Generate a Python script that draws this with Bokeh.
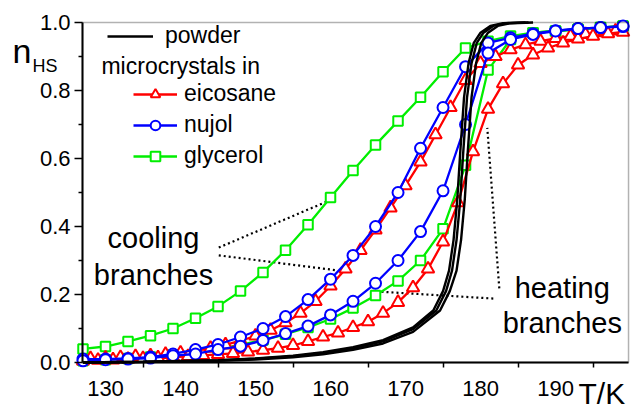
from bokeh.plotting import figure
from bokeh.models import (Range1d, Legend, LegendItem, Label, FixedTicker, PrintfTickFormatter,
                          BoxAnnotation)
from bokeh.embed import file_html
from bokeh.resources import INLINE

FONT = "Liberation Sans"

# ---------------- data ----------------
# eicosane (red, triangles)
T_red_cool = [128, 130, 132, 134, 136, 138, 140, 142, 144, 146, 148, 150, 152, 154, 156, 158, 160, 162,
              164, 166, 168, 170, 172, 174, 176, 178, 180, 182, 184, 186, 188, 190, 192, 194, 196, 198]
n_red_cool = [0.012, 0.013, 0.015, 0.018, 0.020, 0.024, 0.028, 0.034, 0.042, 0.052, 0.064, 0.078, 0.095,
              0.117, 0.145, 0.180, 0.225, 0.275, 0.330, 0.390, 0.455, 0.520, 0.590, 0.670, 0.750, 0.830,
              0.880, 0.900, 0.920, 0.935, 0.945, 0.953, 0.960, 0.965, 0.970, 0.975]
T_red_heat = [127, 129, 131, 133, 135, 137, 139, 141, 143, 145, 147, 149, 151, 153, 155, 157, 159, 161,
              163, 165, 167, 169, 171, 173, 175, 177, 179, 181, 183, 185, 187, 189, 191, 193, 195, 197, 199]
n_red_heat = [0.005, 0.007, 0.008, 0.010, 0.012, 0.014, 0.016, 0.018, 0.021, 0.024, 0.027, 0.031, 0.036,
              0.042, 0.050, 0.062, 0.075, 0.087, 0.103, 0.120, 0.145, 0.177, 0.220, 0.275, 0.355, 0.470,
              0.620, 0.745, 0.820, 0.875, 0.905, 0.925, 0.940, 0.952, 0.960, 0.967, 0.972]

# nujol (blue, circles)
T_blue = [127, 130, 133, 136, 139, 142, 145, 148, 151, 154, 157, 160, 163, 166, 169, 172, 175, 178,
          181, 184, 187, 190, 193, 196, 199]
n_blue_cool = [0.010, 0.010, 0.012, 0.016, 0.025, 0.038, 0.053, 0.075, 0.100, 0.135, 0.185, 0.245, 0.315,
               0.400, 0.500, 0.630, 0.750, 0.870, 0.940, 0.955, 0.967, 0.976, 0.982, 0.985, 0.988]
n_blue_heat = [0.005, 0.008, 0.010, 0.013, 0.020, 0.025, 0.038, 0.048, 0.065, 0.085, 0.107, 0.140, 0.180,
               0.233, 0.300, 0.385, 0.505, 0.700, 0.910, 0.950, 0.965, 0.975, 0.982, 0.985, 0.990]

# glycerol (green, squares)
T_green = [127, 130, 133, 136, 139, 142, 145, 148, 151, 154, 157, 160, 163, 166, 169, 172, 175, 178,
           181, 184, 187, 190, 193, 196, 199]
n_green_cool = [0.040, 0.047, 0.062, 0.079, 0.100, 0.130, 0.165, 0.210, 0.265, 0.330, 0.405, 0.485, 0.565,
                0.640, 0.710, 0.780, 0.855, 0.925, 0.945, 0.960, 0.970, 0.975, 0.980, 0.985, 0.990]
n_green_heat = [0.005, 0.008, 0.012, 0.016, 0.022, 0.030, 0.040, 0.052, 0.066, 0.083, 0.103, 0.128, 0.160,
                0.197, 0.240, 0.300, 0.393, 0.580, 0.860, 0.950, 0.970, 0.975, 0.980, 0.985, 0.990]

# powder (black lines)
T_pow_a = [127, 135, 145, 150, 155, 159, 163, 167, 171, 173.7, 175, 175.8, 176.4, 176.9, 177.3, 177.8,
           178.4, 179.1, 180, 181.3, 183, 186]
n_pow_a = [0.0, 0.002, 0.007, 0.012, 0.020, 0.030, 0.045, 0.066, 0.103, 0.153, 0.210, 0.270, 0.360, 0.480,
           0.620, 0.780, 0.880, 0.940, 0.970, 0.990, 0.998, 1.0]
T_pow_b = [127, 135, 145, 150, 155, 159, 163, 167, 171, 174.1, 175.4, 176.2, 176.8, 177.3, 177.7, 178.2,
           178.8, 179.5, 180.4, 181.7, 183.4, 186.4]
n_pow_b = [0.0, 0.002, 0.006, 0.011, 0.018, 0.028, 0.042, 0.062, 0.098, 0.153, 0.210, 0.270, 0.360, 0.480,
           0.620, 0.780, 0.880, 0.940, 0.970, 0.990, 0.998, 1.0]
T_pow_c = [127, 135, 145, 150, 155, 159, 163, 167, 171, 174.6, 175.9, 176.8, 177.4, 177.9, 178.3, 178.8,
           179.4, 180.1, 181.0, 182.3, 184.0, 187.0]
n_pow_c = [0.0, 0.001, 0.005, 0.009, 0.015, 0.024, 0.037, 0.056, 0.090, 0.153, 0.210, 0.270, 0.360, 0.480,
           0.620, 0.780, 0.880, 0.940, 0.970, 0.990, 0.998, 1.0]

# annotation leader lines (dotted)
T_cool_lead1 = [145.1, 160.0]
n_cool_lead1 = [0.338, 0.478]
T_cool_lead2 = [145.1, 160.9]
n_cool_lead2 = [0.315, 0.271]
T_heat_lead1 = [181.7, 166.8]
n_heat_lead1 = [0.188, 0.208]
T_heat_lead2 = [182.5, 180.9]
n_heat_lead2 = [0.218, 0.690]

x_ticks = [130, 140, 150, 160, 170, 180, 190]
x_minor = [135, 145, 155, 165, 175, 185, 195]
y_ticks = [0.0, 0.2, 0.4, 0.6, 0.8, 1.0]
y_minor = [0.1, 0.3, 0.5, 0.7, 0.9]

# axis box (data extent of the plotting box)
T_MIN, T_MAX = 126.93, 199.73
N_MIN, N_MAX = 0.0, 1.0

# ---------------- figure ----------------
# the frame spans the whole canvas; axes are pinned at the box edges so that the
# texts around the box (n_HS, T/K) are not clipped
p = figure(width=632, height=410, output_backend="svg", toolbar_location=None,
           x_range=Range1d(116.0, 200.26), y_range=Range1d(-0.1412, 1.0647),
           min_border_left=0, min_border_right=0, min_border_top=0, min_border_bottom=0)
p.xgrid.visible = False
p.ygrid.visible = False
p.outline_line_color = None
p.background_fill_color = "white"
p.border_fill_color = "white"

for ax in (p.xaxis[0], p.yaxis[0]):
    ax.axis_line_width = 2
    ax.axis_line_color = "black"
    ax.major_tick_line_color = "black"
    ax.minor_tick_line_color = "black"
    ax.major_tick_line_width = 1.5
    ax.minor_tick_line_width = 1.5
    ax.major_label_text_font = FONT
    ax.major_label_text_font_size = "22px"
    ax.major_label_text_color = "black"

xa = p.xaxis[0]
xa.fixed_location = N_MIN
xa.bounds = (T_MIN, T_MAX)
xa.ticker = FixedTicker(ticks=x_ticks, minor_ticks=x_minor)
xa.major_tick_out = 0
xa.major_tick_in = 0
xa.minor_tick_out = 5
xa.minor_tick_in = 0
xa.major_label_standoff = 14

ya = p.yaxis[0]
ya.fixed_location = T_MIN
ya.bounds = (N_MIN, N_MAX)
ya.ticker = FixedTicker(ticks=y_ticks, minor_ticks=y_minor)
ya.formatter = PrintfTickFormatter(format="%.1f")
ya.major_tick_out = 8
ya.major_tick_in = 0
ya.minor_tick_out = 4
ya.minor_tick_in = 0
ya.major_label_standoff = 4

LW = 2.3

# dotted leaders (below the data)
for T, n in ((T_cool_lead1, n_cool_lead1), (T_cool_lead2, n_cool_lead2),
             (T_heat_lead1, n_heat_lead1), (T_heat_lead2, n_heat_lead2)):
    p.line(T, n, line_color="black", line_width=2.2, line_dash="2 3")

def series(T, n, color, marker, size):
    ln = p.line(T, n, line_color=color, line_width=LW)
    sc = p.scatter(T, n, marker=marker, size=size, line_color=color, line_width=2.0,
                   fill_color="white")
    return ln, sc

g1 = series(T_green, n_green_cool, "#00ee00", "square", 9.5)
g2 = series(T_green, n_green_heat, "#00ee00", "square", 9.5)
r1 = series(T_red_cool, n_red_cool, "#ff0000", "triangle", 12.5)
r2 = series(T_red_heat, n_red_heat, "#ff0000", "triangle", 12.5)
b1 = series(T_blue, n_blue_cool, "#0000ff", "circle", 11)
b2 = series(T_blue, n_blue_heat, "#0000ff", "circle", 11)

k1 = p.line(T_pow_a, n_pow_a, line_color="black", line_width=2.4)
k2 = p.line(T_pow_b, n_pow_b, line_color="black", line_width=2.4)
k3 = p.line(T_pow_c, n_pow_c, line_color="black", line_width=2.4)

# plot box (top and right edges)
p.add_layout(BoxAnnotation(left=T_MIN, right=T_MAX, bottom=N_MIN, top=N_MAX, fill_alpha=0,
                           line_color="black", line_width=1.5))

# ---------------- legends ----------------
common = dict(padding=0, margin=0, border_line_alpha=0, background_fill_alpha=0,
              label_text_font=FONT, label_text_font_size="23px", label_text_color="black",
              glyph_height=24, label_height=24)
leg1 = Legend(items=[LegendItem(label="powder", renderers=[k1])], location=(107, 361),
              glyph_width=46, label_standoff=12, spacing=6, **common)
leg2 = Legend(items=[LegendItem(label="eicosane", renderers=list(r1)),
                     LegendItem(label="nujol", renderers=list(b1)),
                     LegendItem(label="glycerol", renderers=list(g1))],
              location=(133, 241), glyph_width=44, label_standoff=7, spacing=4, **common)
p.add_layout(leg1)
p.add_layout(leg2)

def lab(text, x, y, size, align="left"):
    p.add_layout(Label(x=x, y=y, text=text, text_font=FONT, text_font_size=size,
                       text_color="black", text_align=align, text_baseline="alphabetic"))

lab("microcrystals  in", 129.46, 0.871, "23px")
lab("n", 117.6, 0.915, "34px")
lab("HS", 120.26, 0.871, "18px")
lab("T/K", 193.06, -0.09, "30px")

lab("cooling", 136.4, 0.365, "29px", align="center")
lab("branches", 136.4, 0.257, "29px", align="center")
lab("heating", 190.9, 0.218, "29px", align="center")
lab("branches", 190.9, 0.115, "29px", align="center")

open("out.html", "w").write(file_html(p, INLINE))
